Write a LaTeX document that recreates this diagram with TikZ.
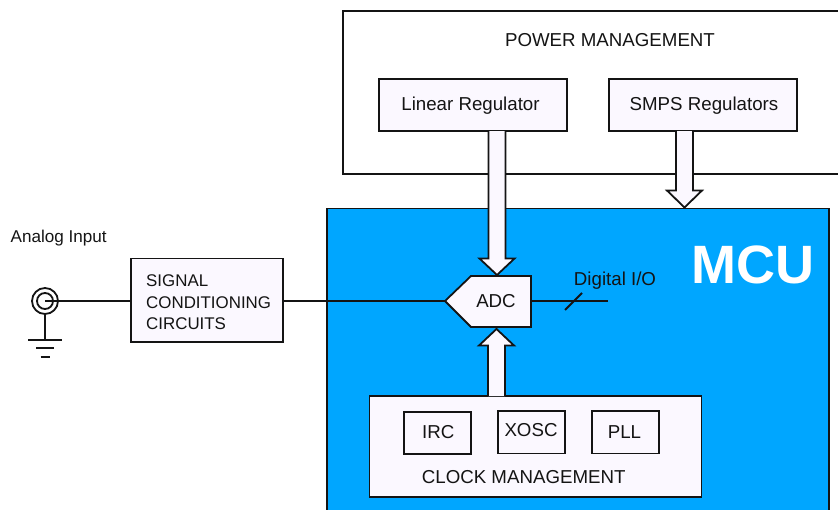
\documentclass[tikz,border=0pt]{standalone}
\usepackage{fontspec}
\setmainfont{Liberation Sans}
\usetikzlibrary{calc}
\definecolor{mcublue}{RGB}{0,166,255}
\definecolor{boxfill}{RGB}{251,248,255}
\definecolor{ink}{RGB}{20,20,20}
\tikzset{
  box/.style={draw=ink,line width=1.8pt,fill=boxfill,anchor=north west,inner sep=0pt,outer sep=0pt,text=ink},
  wire/.style={draw=ink,line width=1.8pt},
  label/.style={inner sep=0pt,text=ink,font=\fontsize{18.7}{22}\selectfont},
  blockarrow/.style={draw=ink,line width=1.8pt,fill=boxfill,line join=miter}
}
% \blockv{start}{tip}{head length}: vertical hollow arrow
\newcommand{\blockv}[3]{%
  \path[blockarrow] ($(#1)+(-8.5,0)$) -- ($(#2)+(-8.5,#3)$) -- ($(#2)+(-17.5,#3)$) -- (#2) -- ($(#2)+(17.5,#3)$) -- ($(#2)+(8.5,#3)$) -- ($(#1)+(8.5,0)$);}
\begin{document}
\begin{tikzpicture}[x=1pt,y=-1pt]
\useasboundingbox (0,0) rectangle (838,509);
\begin{scope}
\clip (0,0) rectangle (838,509);
\node[box,fill=white,minimum width=520pt,minimum height=163pt] (power) at (343,11) {};
\node[label] (powerlabel) at (610,40) {POWER MANAGEMENT};
\node[box,fill=mcublue,minimum width=502pt,minimum height=340pt] (mcu) at (327,208.5) {};
\end{scope}
\node[inner sep=0pt,text=white,font=\bfseries\fontsize{54}{60}\selectfont] (mcutitle) at (753,264.5) {MCU};
% regulators
\node[box,minimum width=188pt,minimum height=52pt] (linear) at (379,79) {};
\node[label] at (470.5,106) {Linear Regulator};
\node[box,minimum width=188pt,minimum height=52pt] (smps) at (609,79) {};
\node[label] at (704,106) {SMPS Regulators};
% clock
\node[box,line width=1.4pt,minimum width=332pt,minimum height=101pt] (clock) at (369.5,396) {};
\node[label] (clocklabel) at (523.7,477.5) {CLOCK MANAGEMENT};
\node[box,minimum width=67pt,minimum height=42.5pt] (irc) at (404,411.7) {};
\node[label] at (438.3,432.5) {IRC};
\node[box,minimum width=67pt,minimum height=42.5pt] (xosc) at (498,411) {};
\node[label] at (531,430.3) {XOSC};
\node[box,minimum width=67pt,minimum height=42.5pt] (pll) at (592,411) {};
\node[label] at (624.5,432.5) {PLL};
% signal conditioning
\node[box,minimum width=152pt,minimum height=83.5pt] (signal) at (131,258.5) {};
\node[label,align=left,anchor=west,font=\fontsize{16.9}{21.5}\selectfont] (signaltext) at (146,302.5) {SIGNAL\\CONDITIONING\\CIRCUITS};
\node[label,anchor=west,font=\fontsize{17.1}{20}\selectfont] (analog) at (10.5,238.5) {Analog Input};
% connector points
\coordinate (jack) at (45,301);
\coordinate (gnd) at (45,340);
\coordinate (adcw) at (445,301);
\coordinate (adce) at (531,301);
\coordinate (dio) at (608,301);
\draw[wire] (signal.east |- adcw) -- (adcw);
\draw[wire] (adce) -- (dio);
% jack and ground
\draw[wire,fill=white] (jack) circle (13);
\draw[wire] (jack) circle (8);
\draw[wire] (jack) -- (signal.west |- jack);
\draw[wire] ($(jack)+(0,13)$) -- (gnd);
\draw[wire] ($(gnd)+(-17,0)$) -- ($(gnd)+(17,0)$);
\draw[wire] ($(gnd)+(-9,8)$) -- ($(gnd)+(8.5,8)$);
\draw[wire] ($(gnd)+(-4.5,17)$) -- ($(gnd)+(4.5,17)$);
% ADC
\path[blockarrow] (adcw) -- (471,276) -- (531,276) -- (531,327) -- (471,327) -- cycle;
\node[label] (adc) at (496,301.5) {ADC};
\draw[wire] (565,310) -- (582,293);
\node[label] (digital) at (615,280.5) {Digital I/O};
% block arrows
\coordinate (a1s) at (497,131);
\coordinate (a1t) at (497,275);
\blockv{a1s}{a1t}{-16.5}
\coordinate (a2s) at (684.5,131);
\coordinate (a2t) at (684.5,207.5);
\blockv{a2s}{a2t}{-17}
\coordinate (a3s) at (496.5,396);
\coordinate (a3t) at (496.5,329);
\blockv{a3s}{a3t}{16.5}
\end{tikzpicture}
\end{document}
